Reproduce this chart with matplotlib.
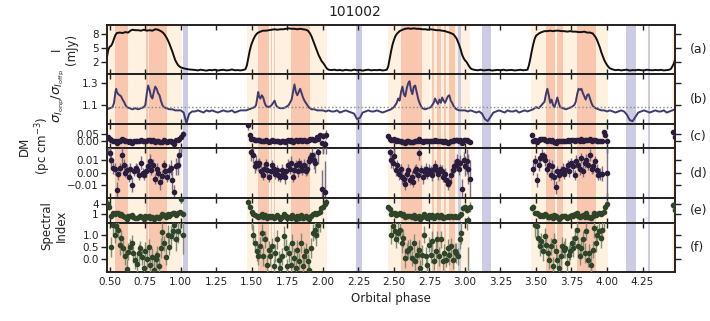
import numpy as np
import matplotlib.pyplot as plt

plt.rcParams['font.family'] = ['DejaVu Sans']
plt.rcParams['mathtext.fontset'] = 'dejavusans'

# ---------------- panel (a): flux density (mJy) ----------------
on1_ph = [0.48, 0.49, 0.50, 0.51, 0.52, 0.53, 0.54, 0.55, 0.57, 0.59, 0.61, 0.63, 0.645, 0.66,
          0.68, 0.70, 0.72, 0.74, 0.76, 0.78, 0.80, 0.82, 0.84, 0.86, 0.87, 0.88, 0.89, 0.90,
          0.91, 0.92, 0.93, 0.94, 0.95, 0.96, 0.97, 0.98, 0.99, 1.00, 1.02, 1.04, 1.06, 1.08]
on1_fl = [3.0, 4.6, 5.2, 5.4, 6.0, 6.9, 7.7, 8.1, 8.2, 8.1, 8.3, 8.2, 8.6, 8.8,
          8.7, 8.7, 8.6, 8.8, 8.6, 8.7, 8.6, 8.9, 8.8, 8.5, 8.3, 8.0, 7.6, 7.1,
          6.5, 5.8, 5.0, 4.2, 3.3, 2.4, 1.8, 1.3, 1.0, 0.8, 0.6, 0.45, 0.35, 0.3]
off1_fl = [0.25, 0.15, 0.30, 0.20, 0.10, 0.25, 0.18, 0.30, 0.12, 0.22, 0.28, 0.15, 0.20, 0.35,
           0.18, 0.22, 0.15, 0.25]                                  # 1.10 .. 1.44
on2_ph = [1.455, 1.465, 1.475, 1.485, 1.495, 1.51, 1.525, 1.54, 1.56, 1.58, 1.60, 1.62, 1.64,
          1.66, 1.68, 1.70, 1.72, 1.74, 1.76, 1.78, 1.80, 1.82, 1.84, 1.86, 1.88, 1.895, 1.91,
          1.92, 1.93, 1.94, 1.95, 1.96, 1.97, 1.98, 1.99, 2.00, 2.01, 2.02, 2.03, 2.04]
on2_fl = [0.4, 1.2, 2.8, 4.3, 5.5, 6.7, 7.6, 8.1, 8.4, 8.6, 8.6, 8.7, 8.8,
          8.9, 8.8, 8.9, 8.9, 9.0, 9.1, 9.0, 9.0, 8.9, 9.0, 8.9, 8.8, 8.6, 8.0,
          7.4, 6.6, 5.8, 5.0, 4.2, 3.4, 2.8, 2.2, 1.8, 1.4, 0.9, 0.5, 0.3]
off2_fl = [0.22, 0.30, 0.18, 0.25, 0.12, 0.28, 0.20, 0.15, 0.32, 0.18, 0.25, 0.10, 0.22, 0.30,
           0.16, 0.24, 0.20, 0.28, 0.14, 0.22]                      # 2.06 .. 2.44
on3_ph = [2.45, 2.46, 2.47, 2.48, 2.49, 2.50, 2.51, 2.52, 2.54, 2.56, 2.58, 2.60, 2.62, 2.64,
          2.66, 2.68, 2.70, 2.72, 2.74, 2.76, 2.78, 2.80, 2.82, 2.84, 2.86, 2.88, 2.90, 2.92,
          2.93, 2.94, 2.95, 2.96, 2.97, 2.98, 2.99, 3.00, 3.01, 3.02, 3.03, 3.04, 3.05]
on3_fl = [0.3, 1.0, 2.6, 4.2, 5.6, 6.6, 7.4, 7.9, 8.5, 8.8, 9.0, 9.1, 9.0, 9.1,
          9.0, 9.0, 8.9, 8.9, 8.8, 8.9, 8.8, 8.7, 8.7, 8.6, 8.5, 8.3, 8.1, 7.8,
          7.4, 7.0, 6.3, 5.5, 4.6, 3.5, 2.8, 2.3, 2.0, 1.5, 1.0, 0.6, 0.4]
off3_fl = [0.25, 0.18, 0.30, 0.15, 0.22, 0.28, 0.12, 0.20, 0.26, 0.18, 0.30, 0.16, 0.22, 0.25,
           0.14, 0.20, 0.28, 0.18, 0.24]                            # 3.07 .. 3.43
on4_ph = [3.44, 3.45, 3.46, 3.47, 3.48, 3.49, 3.50, 3.52, 3.54, 3.56, 3.58, 3.60, 3.62, 3.64,
          3.66, 3.68, 3.70, 3.72, 3.74, 3.76, 3.78, 3.80, 3.82, 3.84, 3.86, 3.88, 3.90, 3.91,
          3.92, 3.93, 3.94, 3.95, 3.96, 3.97, 3.98, 3.99, 4.00, 4.01, 4.02]
on4_fl = [0.3, 1.2, 2.6, 4.2, 5.6, 6.8, 7.5, 8.0, 8.3, 8.5, 8.5, 8.6, 8.5, 8.6,
          8.6, 8.5, 8.5, 8.4, 8.5, 8.4, 8.4, 8.3, 8.3, 8.4, 8.2, 8.2, 8.0, 7.6,
          7.2, 6.6, 5.8, 5.0, 4.0, 3.2, 2.4, 1.8, 1.3, 0.9, 0.6]
off4_fl = [0.35, 0.20, 0.28, 0.15, 0.25, 0.30, 0.12, 0.22, 0.18, 0.28, 0.20, 0.15, 0.30, 0.22,
           0.18, 0.25, 0.20, 0.28, 0.15, 0.22, 0.30]                # 4.04 .. 4.44
on5_ph = [4.45, 4.46, 4.47, 4.48]
on5_fl = [0.5, 1.0, 1.6, 2.6]

# ---------------- panel (b): on-pulse / off-pulse rms ----------------
r_on1_ph = [0.48, 0.50, 0.52, 0.53, 0.54, 0.545, 0.55, 0.56, 0.57, 0.58, 0.59, 0.60, 0.61, 0.62,
            0.64, 0.66, 0.68, 0.70, 0.72, 0.74, 0.75, 0.76, 0.77, 0.78, 0.79, 0.80, 0.81, 0.82,
            0.83, 0.84, 0.85, 0.86, 0.87, 0.88, 0.90, 0.92, 0.94, 0.96, 0.98, 1.00, 1.02, 1.03,
            1.04, 1.05, 1.06, 1.08]
r_on1 = [1.06, 1.07, 1.08, 1.12, 1.22, 1.25, 1.22, 1.20, 1.19, 1.18, 1.15, 1.13, 1.10, 1.08,
         1.07, 1.06, 1.07, 1.06, 1.07, 1.08, 1.10, 1.20, 1.28, 1.24, 1.18, 1.16, 1.22, 1.27,
         1.25, 1.21, 1.19, 1.14, 1.10, 1.08, 1.07, 1.06, 1.06, 1.05, 1.05, 1.05, 1.03, 0.98,
         0.93, 0.98, 1.02, 1.04]
r_off1 = [1.04, 1.05, 1.04, 1.03, 1.05, 1.04, 1.05, 1.04, 1.03, 1.04, 1.05, 1.04, 1.04, 1.05,
          1.03, 1.04, 1.05, 1.05]                                  # 1.10 .. 1.44
r_on2_ph = [1.46, 1.48, 1.50, 1.52, 1.53, 1.54, 1.545, 1.55, 1.56, 1.57, 1.58, 1.59, 1.60, 1.62,
            1.64, 1.65, 1.66, 1.67, 1.68, 1.70, 1.72, 1.74, 1.76, 1.78, 1.79, 1.80, 1.81, 1.82,
            1.83, 1.84, 1.85, 1.86, 1.87, 1.88, 1.89, 1.90, 1.92, 1.94, 1.96, 1.98, 2.00]
r_on2 = [1.05, 1.06, 1.07, 1.08, 1.10, 1.18, 1.22, 1.18, 1.16, 1.19, 1.17, 1.12, 1.09, 1.08,
         1.10, 1.12, 1.14, 1.10, 1.08, 1.07, 1.07, 1.08, 1.10, 1.15, 1.22, 1.29, 1.22, 1.19,
         1.22, 1.25, 1.21, 1.17, 1.14, 1.12, 1.10, 1.08, 1.06, 1.06, 1.05, 1.05, 1.05]
r_off2 = [1.04, 1.05, 1.04, 1.04, 1.05, 1.03, 1.04, 1.05, 1.04, 1.03, 1.02, 0.97, 0.98, 1.03,
          1.04, 1.05, 1.04, 1.04, 1.05, 1.04, 1.03, 1.04]          # 2.02 .. 2.44
r_on3_ph = [2.46, 2.48, 2.50, 2.52, 2.53, 2.54, 2.55, 2.56, 2.57, 2.58, 2.59, 2.60, 2.61, 2.62,
            2.63, 2.64, 2.65, 2.66, 2.67, 2.68, 2.69, 2.70, 2.72, 2.74, 2.76, 2.78, 2.79, 2.80,
            2.81, 2.82, 2.83, 2.84, 2.85, 2.86, 2.87, 2.88, 2.89, 2.90, 2.91, 2.92, 2.94, 2.96,
            2.98, 3.00]
r_on3 = [1.05, 1.06, 1.08, 1.12, 1.16, 1.14, 1.22, 1.27, 1.20, 1.18, 1.25, 1.30, 1.32, 1.24,
         1.20, 1.27, 1.28, 1.22, 1.16, 1.12, 1.09, 1.07, 1.06, 1.07, 1.08, 1.12, 1.16, 1.13,
         1.11, 1.15, 1.12, 1.17, 1.14, 1.12, 1.15, 1.18, 1.19, 1.14, 1.12, 1.09, 1.06, 1.05,
         1.05, 1.05]
r_off3 = [1.04, 1.05, 1.04, 1.03, 1.04, 1.02, 0.97, 0.95, 0.99, 1.03, 1.04, 1.05, 1.04, 1.03,
          1.05, 1.04, 1.04, 1.05, 1.03, 1.04, 1.05, 1.04]          # 3.02 .. 3.44
r_on4_ph = [3.46, 3.48, 3.50, 3.52, 3.54, 3.56, 3.57, 3.58, 3.59, 3.60, 3.61, 3.62, 3.63, 3.64,
            3.65, 3.66, 3.67, 3.69, 3.71, 3.73, 3.75, 3.77, 3.78, 3.79, 3.80, 3.81, 3.82, 3.83,
            3.84, 3.85, 3.86, 3.87, 3.88, 3.89, 3.90, 3.92, 3.94, 3.96]
r_on4 = [1.05, 1.06, 1.08, 1.07, 1.10, 1.13, 1.20, 1.25, 1.19, 1.12, 1.15, 1.10, 1.08, 1.12,
         1.17, 1.12, 1.08, 1.07, 1.06, 1.07, 1.08, 1.10, 1.13, 1.20, 1.25, 1.24, 1.25, 1.21,
         1.18, 1.15, 1.19, 1.20, 1.16, 1.12, 1.09, 1.07, 1.06, 1.05]
r_off4 = [1.05, 1.04, 1.05, 1.04, 1.03, 1.04, 1.05, 1.04, 1.01, 0.96, 0.95, 0.99, 1.03, 1.04,
          1.05, 1.04, 1.03, 1.04, 1.05, 1.04, 1.04, 1.05, 1.03, 1.04, 1.05, 1.06]  # 3.98 .. 4.48
ratio_ref = 1.085

# ---------------- panels (c,d): DM ; (e,f): spectral index ----------------
orbit_span = [(0.486, 1.015), (1.474, 2.025), (2.458, 3.035), (3.47, 4.0), (4.465, 4.478)]

dm1 = [0.030, 0.016, 0.010, 0.004, 0.003, -0.014, -0.001, 0.004, 0.014, 0.006,
       0.000, 0.002, -0.004, 0.003, -0.010, 0.001, 0.004, 0.002, -0.002, 0.008,
       0.000, -0.002, 0.001, 0.005, 0.009, 0.002, 0.006, -0.005, 0.003, 0.000,
       -0.008, -0.003, 0.006, 0.001, -0.004, 0.002, 0.004, -0.006, -0.016, 0.005,
       0.006, 0.014, 0.030, 0.050]
dm1_err = [0.015, 0.008, 0.006, 0.005, 0.005, 0.006, 0.005, 0.004, 0.006, 0.005,
           0.004, 0.005, 0.004, 0.005, 0.006, 0.004, 0.004, 0.005, 0.004, 0.005,
           0.004, 0.004, 0.005, 0.005, 0.006, 0.004, 0.005, 0.004, 0.005, 0.004,
           0.006, 0.005, 0.004, 0.005, 0.004, 0.005, 0.006, 0.008, 0.006, 0.007,
           0.008, 0.010, 0.015, 0.020]
dm2 = [0.110, 0.043, 0.017, 0.014, 0.005, 0.008, 0.006, 0.008, 0.001, -0.002,
       0.003, 0.007, 0.002, -0.004, 0.001, 0.006, 0.003, -0.001, 0.002, -0.002,
       -0.004, 0.002, -0.001, -0.004, 0.001, 0.006, 0.003, 0.008, -0.004, 0.002,
       0.006, 0.001, 0.008, 0.005, 0.002, 0.006, 0.001, 0.003, 0.009, 0.012,
       0.014, 0.010, 0.008, 0.028, 0.017, 0.043, -0.013, 0.035, -0.016, 0.045]
dm2_err = [0.030, 0.012, 0.008, 0.006, 0.005, 0.006, 0.005, 0.004, 0.005, 0.004,
           0.005, 0.004, 0.005, 0.004, 0.005, 0.004, 0.005, 0.004, 0.004, 0.005,
           0.004, 0.005, 0.004, 0.005, 0.004, 0.005, 0.004, 0.005, 0.004, 0.005,
           0.004, 0.005, 0.004, 0.005, 0.004, 0.005, 0.004, 0.005, 0.006, 0.005,
           0.006, 0.007, 0.008, 0.012, 0.010, 0.015, 0.015, 0.020, 0.025, 0.030]
dm3 = [0.033, 0.017, 0.010, 0.008, 0.013, 0.002, 0.006, -0.001, 0.003, -0.004,
       -0.005, -0.009, -0.001, 0.002, -0.006, -0.004, -0.008, 0.001, 0.003, -0.002,
       0.016, 0.002, -0.004, 0.001, 0.003, -0.001, 0.002, 0.001, -0.002, 0.003,
       0.005, 0.002, -0.001, 0.003, 0.001, -0.004, -0.001, -0.006, -0.009, -0.008,
       -0.002, 0.002, 0.005, 0.006, 0.009, 0.003, 0.008, -0.013, 0.010, 0.005,
       0.009, 0.003, -0.005]
dm3_err = [0.012, 0.008, 0.006, 0.005, 0.006, 0.005, 0.004, 0.005, 0.004, 0.005,
           0.004, 0.005, 0.004, 0.005, 0.004, 0.005, 0.004, 0.005, 0.004, 0.005,
           0.006, 0.004, 0.005, 0.004, 0.005, 0.004, 0.005, 0.004, 0.005, 0.004,
           0.005, 0.004, 0.005, 0.004, 0.005, 0.004, 0.005, 0.004, 0.005, 0.004,
           0.005, 0.004, 0.005, 0.005, 0.006, 0.005, 0.006, 0.008, 0.007, 0.008,
           0.010, 0.012, 0.015]
dm4 = [0.043, 0.003, 0.009, -0.006, 0.006, 0.012, 0.014, 0.013, 0.010, 0.003,
       0.006, -0.002, 0.005, -0.004, -0.012, 0.001, -0.002, 0.001, 0.003, -0.001,
       0.002, 0.006, 0.001, 0.008, 0.005, -0.002, 0.009, 0.006, 0.003, 0.012,
       0.001, 0.008, 0.010, 0.006, 0.014, 0.003, 0.005, 0.009, 0.002, -0.002,
       -0.001, -0.001, 0.060, 0.040, 0.000]
dm4_err = [0.012, 0.005, 0.005, 0.006, 0.005, 0.004, 0.005, 0.004, 0.005, 0.004,
           0.005, 0.004, 0.005, 0.006, 0.005, 0.004, 0.005, 0.004, 0.005, 0.004,
           0.005, 0.004, 0.005, 0.004, 0.005, 0.004, 0.005, 0.004, 0.005, 0.004,
           0.005, 0.004, 0.005, 0.004, 0.005, 0.004, 0.005, 0.004, 0.005, 0.004,
           0.005, 0.006, 0.015, 0.012, 0.020]
dm5 = [0.060, 0.030]
dm5_err = [0.015, 0.012]

si1 = [4.0, 2.9, 0.50, 1.37, 1.00, 1.33, 1.20, 0.58, 0.85, 0.45,
       0.11, -0.39, 0.30, 0.50, 0.65, 0.24, -0.05, -0.20, 0.25, 0.45,
       0.10, -0.35, 0.35, 0.00, 0.48, -0.25, 0.10, -0.45, 0.00, 0.15,
       -0.30, 0.45, 1.10, 0.65, 0.10, 1.00, 0.50, 0.95, 1.14, 1.37,
       0.80, 1.14, 1.60, 5.3, 1.0]
si1_err = [1.0, 0.8, 0.4, 0.4, 0.35, 0.4, 0.35, 0.4, 0.35, 0.4,
           0.35, 0.4, 0.35, 0.3, 0.35, 0.4, 0.35, 0.4, 0.35, 0.3,
           0.35, 0.4, 0.35, 0.4, 0.35, 0.3, 0.35, 0.4, 0.35, 0.4,
           0.35, 0.4, 0.35, 0.3, 0.35, 0.4, 0.35, 0.4, 0.35, 0.4,
           0.45, 0.5, 0.6, 1.2, 0.8]
si2 = [4.4, 3.1, 1.7, 1.00, 0.66, 0.32, 0.11, 0.52, 1.07, 0.11,
       0.80, -0.23, 0.39, 0.11, 0.52, -0.30, 0.25, 0.80, -0.02, -0.37,
       0.11, 0.93, 0.45, -0.30, 0.25, -0.23, 0.66, 0.04, -0.37, 0.39,
       -0.09, 0.66, -0.30, 0.11, 0.32, -0.09, -0.43, 0.45, 1.07, 1.20,
       1.00, 1.4, 1.7, 2.7, 3.1, 4.0, 4.4]
si2_err = [1.0, 0.8, 0.5, 0.4, 0.35, 0.4, 0.35, 0.4, 0.35, 0.4,
           0.35, 0.4, 0.35, 0.4, 0.35, 0.3, 0.35, 0.4, 0.35, 0.4,
           0.35, 0.4, 0.35, 0.3, 0.35, 0.4, 0.35, 0.4, 0.35, 0.4,
           0.35, 0.4, 0.35, 0.4, 0.35, 0.3, 0.35, 0.4, 0.35, 0.4,
           0.45, 0.5, 0.6, 0.7, 0.8, 1.0, 1.2]
si3 = [2.9, 2.3, 1.00, 1.34, 1.14, 0.80, 1.07, 1.20, 0.66, 0.86,
       0.04, 0.32, 0.39, 0.45, 0.04, 0.66, -0.09, 0.18, 0.39, -0.37,
       0.18, 1.00, 0.11, -0.23, 0.59, 0.18, 0.73, -0.09, 0.32, 0.80,
       0.11, 0.80, -0.09, 0.25, -0.02, 0.45, 0.18, 0.52, -0.02, 0.32,
       0.25, 0.11, 0.80, 1.07, 2.7, 3.1, 2.2, -0.7, 3.1]
si3_err = [0.8, 0.6, 0.4, 0.35, 0.4, 0.35, 0.4, 0.35, 0.4, 0.35,
           0.4, 0.35, 0.4, 0.35, 0.3, 0.35, 0.4, 0.35, 0.4, 0.35,
           0.4, 0.35, 0.4, 0.35, 0.3, 0.35, 0.4, 0.35, 0.4, 0.35,
           0.4, 0.35, 0.4, 0.35, 0.3, 0.35, 0.4, 0.35, 0.4, 0.35,
           0.4, 0.35, 0.4, 0.45, 0.8, 0.9, 1.0, 1.2, 1.5]
si4 = [2.7, 3.1, 1.4, 1.34, 0.86, 0.52, 0.73, 0.32, 0.93, 0.59,
       0.25, -0.02, 0.52, -0.30, 0.73, 0.32, -0.02, -0.36, 0.11, 0.52,
       0.39, 0.45, -0.16, 0.18, 0.32, 0.66, 0.45, 0.86, 1.20, 0.52,
       0.11, 0.45, 0.80, 0.25, 1.14, -0.02, 0.25, -0.23, 0.39, 1.27,
       0.66, 1.00, 1.14, 0.86, 1.20, 1.7, 3.1, 4.0]
si4_err = [0.8, 0.7, 0.5, 0.4, 0.35, 0.4, 0.35, 0.4, 0.35, 0.4,
           0.35, 0.4, 0.35, 0.4, 0.35, 0.3, 0.35, 0.4, 0.35, 0.4,
           0.35, 0.4, 0.35, 0.4, 0.35, 0.3, 0.35, 0.4, 0.35, 0.4,
           0.35, 0.4, 0.35, 0.4, 0.35, 0.3, 0.35, 0.4, 0.35, 0.4,
           0.35, 0.4, 0.35, 0.4, 0.45, 0.6, 0.8, 1.0]
si5 = [3.5, 2.2]
si5_err = [1.0, 0.8]

# shaded phase ranges
bright_spans = [(0.46, 1.01), (1.467, 2.026), (2.46, 3.035), (3.465, 4.005), (4.46, 4.50)]
burst_spans = [(0.535, 0.629), (0.758, 0.904), (1.545, 1.62), (1.633, 1.641), (1.655, 1.665),
               (1.775, 1.909), (2.549, 2.695), (2.77, 2.78), (2.80, 2.83), (2.85, 2.87),
               (2.89, 2.93), (3.57, 3.634), (3.65, 3.687), (3.787, 3.923)]
gap_spans = [(0.772, 0.778), (1.620, 1.627), (1.643, 1.650), (2.755, 2.762), (3.640, 3.646)]
eclipse_spans = [(1.012, 1.054), (2.232, 2.273), (2.948, 2.969), (3.118, 3.183),
                 (4.132, 4.202), (4.29, 4.303)]

c_bright = '#fef1df'
c_burst = '#f9c6ae'
c_eclipse = '#cbcbe4'
c_dm = '#2a1c3c'
c_si = '#2f4529'

fig, axes = plt.subplots(6, 1, sharex=True, figsize=(7.10, 3.21), dpi=100,
                         gridspec_kw=dict(height_ratios=[2, 2, 1, 2, 1, 2], hspace=0,
                                          left=0.151, right=0.951, top=0.922, bottom=0.153))

for ax in axes:
    for a, b in bright_spans:
        ax.axvspan(a, b, color=c_bright, lw=0, zorder=0)
    for a, b in burst_spans:
        ax.axvspan(a, b, color=c_burst, lw=0, zorder=0)
    for a, b in gap_spans:
        ax.axvspan(a, b, color='white', alpha=0.6, lw=0, zorder=0)
    for a, b in eclipse_spans:
        ax.axvspan(a, b, color=c_eclipse, lw=0, zorder=0)

# (a)
flux_ph = (on1_ph + list(np.linspace(1.10, 1.44, len(off1_fl))) + on2_ph
           + list(np.linspace(2.06, 2.44, len(off2_fl))) + on3_ph
           + list(np.linspace(3.07, 3.43, len(off3_fl))) + on4_ph
           + list(np.linspace(4.04, 4.44, len(off4_fl))) + on5_ph)
flux = on1_fl + off1_fl + on2_fl + off2_fl + on3_fl + off3_fl + on4_fl + off4_fl + on5_fl
axes[0].plot(flux_ph, flux, color='#111111', lw=1.4)

# (b)
ratio_ph = (r_on1_ph + list(np.linspace(1.10, 1.44, len(r_off1))) + r_on2_ph
            + list(np.linspace(2.02, 2.44, len(r_off2))) + r_on3_ph
            + list(np.linspace(3.02, 3.44, len(r_off3))) + r_on4_ph
            + list(np.linspace(3.98, 4.48, len(r_off4))))
ratio = r_on1 + r_off1 + r_on2 + r_off2 + r_on3 + r_off3 + r_on4 + r_off4
axes[1].plot(ratio_ph, ratio, color='#3d3b6d', lw=1.4)
axes[1].axhline(ratio_ref, color='#8a8a8a', ls=':', lw=1.0)

dm_sets = [(dm1, dm1_err), (dm2, dm2_err), (dm3, dm3_err), (dm4, dm4_err), (dm5, dm5_err)]
si_sets = [(si1, si1_err), (si2, si2_err), (si3, si3_err), (si4, si4_err), (si5, si5_err)]


def draw_points(ax, sets, col, ecol):
    for (s, e), (vals, errs) in zip(orbit_span, sets):
        ph = np.linspace(s, e, len(vals))
        ax.errorbar(ph, vals, xerr=0.012, fmt='none', ecolor='#d6d6d6', elinewidth=0.8, zorder=2)
        ax.errorbar(ph, vals, yerr=errs, fmt='o', ms=3.0, color=col, ecolor=ecol,
                    elinewidth=1.0, mec=col, zorder=3)


draw_points(axes[2], dm_sets, c_dm, '#7a6f88')
draw_points(axes[3], dm_sets, c_dm, '#7a6f88')
draw_points(axes[4], si_sets, c_si, '#7f8f78')
draw_points(axes[5], si_sets, c_si, '#7f8f78')

limits = [(-0.7, 9.8), (0.926, 1.383), (-0.05, 0.12), (-0.0205, 0.0195), (-1.5, 5.7), (-0.52, 1.49)]
yticks = [[2, 5, 8], [1.1, 1.3], [0.0, 0.05], [-0.01, 0.0, 0.01], [1, 4], [0.0, 0.5, 1.0]]
tags = ['(a)', '(b)', '(c)', '(d)', '(e)', '(f)']
for ax, lim, yt, tag in zip(axes, limits, yticks, tags):
    ax.set_ylim(lim)
    ax.set_yticks(yt)
    ax.tick_params(axis='y', direction='out', left=True, right=True, length=4, width=1,
                   labelsize=7.5, colors='#222222', pad=2)
    ax.tick_params(axis='x', direction='in', top=True, bottom=True, length=3.5, width=1,
                   labelsize=7.5, colors='#222222')
    for sp in ax.spines.values():
        sp.set_linewidth(1.4)
        sp.set_color('#222222')
    ax.text(1.025, 0.5, tag, transform=ax.transAxes, ha='left', va='center', fontsize=9,
            color='#222222')

axes[0].set_xlim(0.482, 4.48)
axes[-1].set_xticks(np.arange(0.5, 4.3, 0.25))
axes[-1].set_xlabel('Orbital phase', fontsize=8.5, color='#222222', labelpad=4)

fig.text(0.5, 0.962, '101002', ha='center', va='center', fontsize=10, color='#222222')
fig.text(0.090, 0.847, 'I\n(mJy)', rotation=90, ha='center', va='center', fontsize=8.5,
         multialignment='center', color='#222222')
fig.text(0.083, 0.70, r'$\sigma_{I_{\rm onp}}/\sigma_{I_{\rm offp}}$', rotation=90,
         ha='center', va='center', fontsize=9.5, color='#222222')
fig.text(0.050, 0.545, 'DM\n(pc cm$^{-3}$)', rotation=90, ha='center', va='center',
         fontsize=8.5, multialignment='center', color='#222222')
fig.text(0.076, 0.296, 'Spectral\nIndex', rotation=90, ha='center', va='center',
         fontsize=8.5, multialignment='center', color='#222222')

fig.savefig('out.png', dpi=100)
